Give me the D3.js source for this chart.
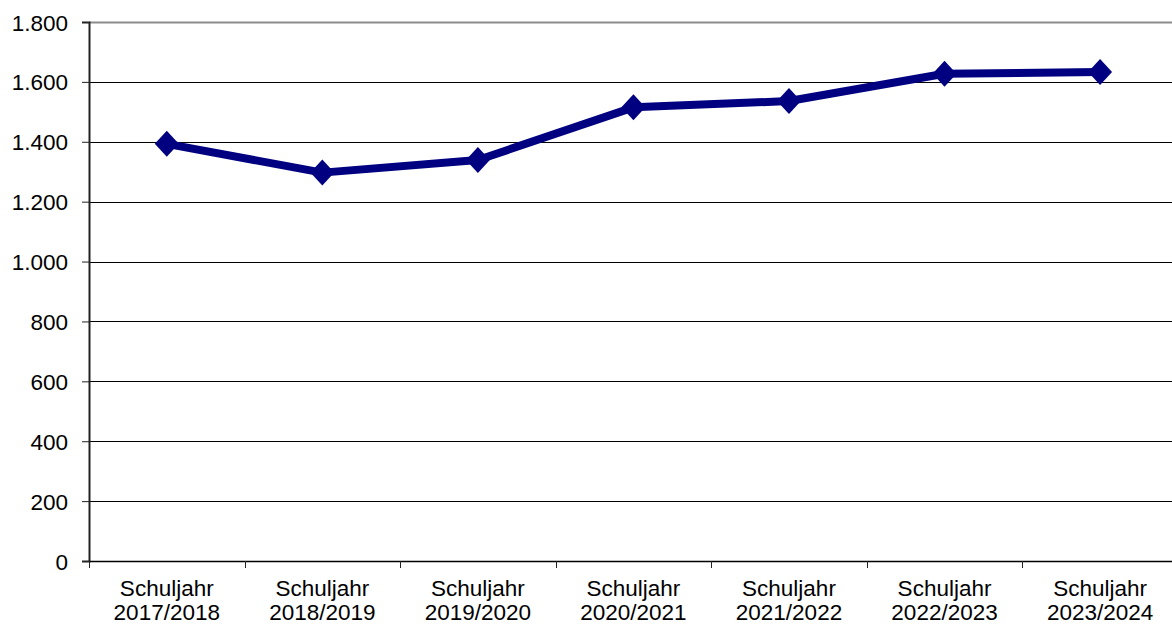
<!DOCTYPE html>
<html>
<head>
<meta charset="utf-8">
<script src="https://cdn.jsdelivr.net/npm/d3@7"></script>
<style>
  html, body { margin: 0; padding: 0; background: #fff; }
  svg { display: block; }
  text { font-family: "Liberation Sans", Arial, Helvetica, sans-serif; fill: #000; }
</style>
</head>
<body>
<svg id="chart" width="1172" height="625"></svg>
<script>
// Schuljahre and their values
const categories = [
  ["Schuljahr", "2017/2018"],
  ["Schuljahr", "2018/2019"],
  ["Schuljahr", "2019/2020"],
  ["Schuljahr", "2020/2021"],
  ["Schuljahr", "2021/2022"],
  ["Schuljahr", "2022/2023"],
  ["Schuljahr", "2023/2024"]
];
const values = [1393, 1297, 1339, 1515, 1536, 1627, 1633];
const yTicks = [0, 200, 400, 600, 800, 1000, 1200, 1400, 1600, 1800];
const yTickLabels = ["0", "200", "400", "600", "800", "1.000", "1.200", "1.400", "1.600", "1.800"];

const svg = d3.select("#chart");
const plotLeft = 89, plotTop = 22, plotBottom = 561, band = 155.55;
const plotRight = plotLeft + band * categories.length;
const fontSize = "22.5px";

const x = d3.scaleBand()
  .domain(d3.range(categories.length))
  .range([plotLeft, plotRight])
  .paddingInner(0).paddingOuter(0);
const y = d3.scaleLinear().domain([0, 1800]).range([plotBottom, plotTop]);

// horizontal gridlines
svg.append("g")
  .selectAll("line")
  .data(yTicks.filter(t => t > 0))
  .join("line")
  .attr("x1", plotLeft).attr("x2", plotRight)
  .attr("y1", d => Math.round(y(d)) + 0.5).attr("y2", d => Math.round(y(d)) + 0.5)
  .attr("stroke", d => d === 1800 ? "#8c8c8c" : "#000")
  .attr("stroke-width", d => d === 1800 ? 2 : 1);

// y axis
const yAxis = d3.axisLeft(y)
  .tickValues(yTicks)
  .tickFormat((d, i) => yTickLabels[i])
  .tickSize(7)
  .tickPadding(14);
const gy = svg.append("g")
  .attr("transform", `translate(${plotLeft},0)`)
  .call(yAxis);
gy.select(".domain").attr("stroke", "#222").attr("stroke-width", 2);
gy.selectAll(".tick line").attr("stroke", "#222").attr("stroke-width", 1);
gy.selectAll(".tick text")
  .style("font-size", fontSize)
  .attr("fill", "#000")
  .attr("dy", "0.36em");

// x axis baseline and ticks at category boundaries
svg.append("line")
  .attr("x1", plotLeft).attr("x2", plotRight)
  .attr("y1", plotBottom + 0.5).attr("y2", plotBottom + 0.5)
  .attr("stroke", "#000").attr("stroke-width", 1.5);
svg.append("g")
  .selectAll("line")
  .data(d3.range(categories.length + 1))
  .join("line")
  .attr("x1", i => Math.round(plotLeft + i * x.bandwidth()) + 0.5)
  .attr("x2", i => Math.round(plotLeft + i * x.bandwidth()) + 0.5)
  .attr("y1", plotBottom).attr("y2", plotBottom + 7)
  .attr("stroke", "#222").attr("stroke-width", 1);

// category labels (two lines)
const lab = svg.append("g")
  .selectAll("text")
  .data(categories)
  .join("text")
  .attr("text-anchor", "middle")
  .style("font-size", fontSize)
  .attr("transform", (d, i) => `translate(${x(i) + x.bandwidth() / 2},0)`);
lab.append("tspan").attr("x", 0).attr("y", 596).text(d => d[0]);
lab.append("tspan").attr("x", 0).attr("y", 620).text(d => d[1]);

// data line
const cx = i => x(i) + x.bandwidth() / 2;
svg.append("path")
  .datum(values)
  .attr("fill", "none")
  .attr("stroke", "#000080")
  .attr("stroke-width", 8)
  .attr("stroke-linejoin", "round")
  .attr("d", d3.line().x((d, i) => cx(i)).y(d => y(d)));

// diamond markers
svg.append("g")
  .selectAll("path")
  .data(values)
  .join("path")
  .attr("fill", "#000080")
  .attr("d", (d, i) => {
    const px = cx(i), py = y(d), r = 13;
    return `M${px},${py - r}L${px + r - 1},${py}L${px},${py + r}L${px - r + 1},${py}Z`;
  });
</script>
</body>
</html>
